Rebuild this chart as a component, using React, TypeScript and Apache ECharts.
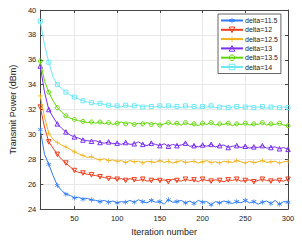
import React, { useEffect, useRef } from 'react';
import * as echarts from 'echarts';

const iterations = [10, 15, 20, 25, 30, 35, 40, 45, 50, 55, 60, 65, 70, 75, 80, 85, 90, 95, 100, 105, 110, 115, 120, 125, 130, 135, 140, 145, 150, 155, 160, 165, 170, 175, 180, 185, 190, 195, 200, 205, 210, 215, 220, 225, 230, 235, 240, 245, 250, 255, 260, 265, 270, 275, 280, 285, 290, 295, 300];

const xTicks = [50, 100, 150, 200, 250, 300];

const seriesNames = ['delta=11.5', 'delta=12', 'delta=12.5', 'delta=13', 'delta=13.5', 'delta=14'];

const delta115 = [30.4, 28.4, 27.6, 26.7, 25.9, 25.5, 25.2, 25.1, 24.9, 24.95, 24.8, 24.85, 24.75, 24.7, 24.6, 24.7, 24.55, 24.65, 24.5, 24.6, 24.55, 24.7, 24.55, 24.75, 24.6, 24.5, 24.7, 24.55, 24.6, 24.4, 24.75, 24.55, 24.6, 24.7, 24.5, 24.65, 24.45, 24.7, 24.55, 24.6, 24.35, 24.6, 24.5, 24.65, 24.55, 24.45, 24.6, 24.5, 24.7, 24.5, 24.6, 24.4, 24.55, 24.65, 24.45, 24.7, 24.4, 24.6, 24.55];
const delta12 = [32.2, 30.6, 29.4, 28.9, 28.4, 28.0, 27.7, 27.4, 27.1, 26.95, 26.9, 26.8, 26.75, 26.7, 26.6, 26.55, 26.45, 26.5, 26.4, 26.45, 26.3, 26.45, 26.35, 26.3, 26.4, 26.25, 26.3, 26.4, 26.3, 26.35, 26.2, 26.4, 26.3, 26.25, 26.4, 26.3, 26.35, 26.2, 26.4, 26.3, 26.25, 26.35, 26.3, 26.2, 26.35, 26.3, 26.4, 26.25, 26.3, 26.35, 26.2, 26.3, 26.4, 26.3, 26.25, 26.35, 26.3, 26.25, 26.4];
const delta125 = [33.1, 31.4, 30.1, 29.6, 29.35, 29.15, 29.0, 28.8, 28.6, 28.45, 28.3, 28.15, 28.2, 28.05, 27.95, 28.05, 27.9, 27.95, 27.85, 27.9, 27.75, 27.9, 27.8, 27.85, 27.7, 27.85, 27.8, 27.75, 27.9, 27.75, 27.85, 27.7, 27.8, 27.9, 27.75, 27.8, 27.85, 27.7, 27.8, 27.9, 27.75, 27.8, 27.7, 27.85, 27.8, 27.75, 27.9, 27.8, 27.7, 27.85, 27.75, 27.8, 27.9, 27.75, 27.8, 27.85, 27.7, 27.8, 27.85];
const delta13 = [35.5, 33.4, 32.0, 31.4, 30.85, 30.5, 30.2, 29.95, 29.8, 29.7, 29.55, 29.5, 29.45, 29.5, 29.35, 29.3, 29.4, 29.25, 29.3, 29.2, 29.35, 29.2, 29.25, 29.4, 29.2, 29.1, 29.3, 29.2, 29.1, 29.25, 29.05, 29.2, 29.1, 29.15, 29.3, 29.05, 29.1, 29.0, 29.15, 29.05, 29.2, 29.0, 29.1, 29.15, 28.95, 29.05, 29.1, 28.95, 29.05, 28.9, 29.0, 28.95, 29.1, 28.9, 28.95, 29.0, 28.85, 28.95, 28.8];
const delta135 = [35.9, 34.3, 33.4, 32.7, 32.15, 31.8, 31.5, 31.3, 31.2, 31.1, 31.05, 30.95, 31.0, 30.9, 31.0, 30.85, 30.95, 30.8, 30.9, 31.0, 30.85, 30.95, 30.8, 30.9, 30.85, 30.95, 30.8, 30.9, 30.75, 30.85, 30.95, 30.8, 30.9, 30.75, 30.95, 30.8, 30.85, 30.7, 30.9, 30.8, 30.95, 30.75, 30.85, 30.8, 30.9, 30.7, 30.85, 30.8, 30.9, 30.75, 30.85, 30.8, 30.95, 30.75, 30.85, 30.8, 30.9, 30.75, 30.7];
const delta14 = [39.1, 37.2, 35.8, 34.6, 34.0, 33.7, 33.4, 33.15, 33.0, 32.85, 32.7, 32.6, 32.55, 32.45, 32.5, 32.4, 32.35, 32.25, 32.3, 32.2, 32.35, 32.25, 32.3, 32.35, 32.2, 32.3, 32.25, 32.2, 32.3, 32.15, 32.3, 32.2, 32.25, 32.15, 32.3, 32.2, 32.25, 32.1, 32.25, 32.2, 32.3, 32.15, 32.2, 32.3, 32.15, 32.2, 32.25, 32.15, 32.2, 32.3, 32.15, 32.2, 32.25, 32.1, 32.2, 32.25, 32.15, 32.2, 32.15];

const seriesValues = [delta115, delta12, delta125, delta13, delta135, delta14];

const colors = ['#2f7cf6', '#ee3d1c', '#f2b21c', '#7a2ff0', '#5fd800', '#6ee8f5'];

const ASTERISK = 'path://M-0.5,-4h1v3.1l2.7,-1.6l0.5,0.9l-2.7,1.6l2.7,1.6l-0.5,0.9l-2.7,-1.6v3.1h-1v-3.1l-2.7,1.6l-0.5,-0.9l2.7,-1.6l-2.7,-1.6l0.5,-0.9l2.7,1.6z';
const PLUS = 'path://M-0.5,-4h1v3.5h3.5v1h-3.5v3.5h-1v-3.5h-3.5v-1h3.5z';
const DOWN_TRI = 'path://M-4,-3.5L4,-3.5L0,3.5Z';

const symbols = [ASTERISK, DOWN_TRI, PLUS, 'triangle', 'circle', 'rect'];
const filled = [true, false, true, false, false, false];
const sizes = [5, 4.5, 5, 4.5, 4, 4];

const FONT = 'Liberation Sans, Arial, sans-serif';

function markerStyle(s: number) {
  return filled[s]
    ? { color: colors[s], borderWidth: 0 }
    : { color: 'rgba(255,255,255,0)', borderColor: colors[s], borderWidth: 1 };
}

export default function App() {
  const ref = useRef<HTMLDivElement>(null);
  useEffect(() => {
    const chart = echarts.init(ref.current!, null, { renderer: 'svg' });
    const series = seriesNames.map((name, s) => ({
      name,
      type: 'line',
      color: colors[s],
      symbol: symbols[s],
      symbolSize: sizes[s],
      showAllSymbol: true,
      lineStyle: { color: colors[s], width: 1 },
      itemStyle: markerStyle(s),
      emphasis: { disabled: true },
      data: iterations.map((x, i) =>
        i % 2 === 0 ? [x, seriesValues[s][i]] : { value: [x, seriesValues[s][i]], symbol: 'none' }
      ),
      z: 3 + s,
    }));
    const axisLine = { show: true, lineStyle: { color: '#444', width: 1 } };
    chart.setOption({
      animation: false,
      backgroundColor: '#fff',
      textStyle: { fontFamily: FONT },
      grid: { left: 33, right: 14, top: 10, bottom: 31, containLabel: false },
      legend: {
        orient: 'vertical',
        left: 218,
        top: 14,
        width: 66,
        itemWidth: 22,
        itemHeight: 7,
        itemGap: 2.3,
        padding: [3, 3, 3, 2],
        backgroundColor: '#fff',
        borderColor: '#666',
        borderWidth: 1,
        borderRadius: 0,
        textStyle: { fontSize: 7, color: '#222', fontFamily: FONT, padding: [0, 0, 0, -3] },
        data: seriesNames.map((name, s) => ({ name, itemStyle: markerStyle(s) })),
      },
      xAxis: [
        {
          type: 'value',
          min: 10,
          max: 300,
          name: 'Iteration number',
          nameLocation: 'middle',
          nameGap: 17,
          nameTextStyle: { fontSize: 9, color: '#222', fontFamily: FONT },
          axisLine,
          axisTick: { show: true, inside: true, length: 3, customValues: xTicks, lineStyle: { color: '#444' } },
          axisLabel: { customValues: xTicks, fontSize: 7.5, color: '#222', margin: 5, fontFamily: FONT },
          splitLine: { show: true, lineStyle: { color: '#e8e8e8', width: 1 } },
        },
        {
          type: 'value',
          position: 'top',
          min: 10,
          max: 300,
          axisLine,
          axisTick: { show: true, inside: true, length: 3, customValues: xTicks, lineStyle: { color: '#444' } },
          axisLabel: { show: false },
          splitLine: { show: false },
        },
      ],
      yAxis: [
        {
          type: 'value',
          min: 24,
          max: 40,
          interval: 2,
          name: 'Transmit Power (dBm)',
          nameLocation: 'middle',
          nameGap: 17,
          nameTextStyle: { fontSize: 9, color: '#222', fontFamily: FONT },
          axisLine,
          axisTick: { show: true, inside: true, length: 3, lineStyle: { color: '#444' } },
          axisLabel: { fontSize: 7.5, color: '#222', margin: 4, fontFamily: FONT },
          splitLine: { show: true, lineStyle: { color: '#e8e8e8', width: 1 } },
        },
        {
          type: 'value',
          position: 'right',
          min: 24,
          max: 40,
          interval: 2,
          axisLine,
          axisTick: { show: true, inside: true, length: 3, lineStyle: { color: '#444' } },
          axisLabel: { show: false },
          splitLine: { show: false },
        },
      ],
      series,
    });
    return () => chart.dispose();
  }, []);
  return <div ref={ref} style={{ position: 'absolute', left: 0, top: 0, width: 302, height: 241 }} />;
}
